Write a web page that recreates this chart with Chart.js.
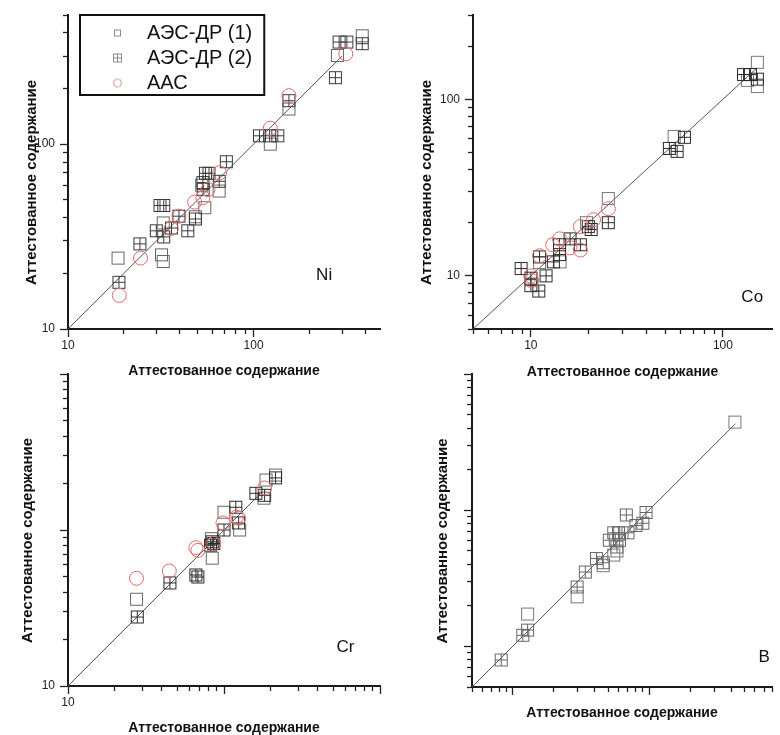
<!DOCTYPE html>
<html><head><meta charset="utf-8">
<script src="https://cdn.jsdelivr.net/npm/chart.js@4.4.1/dist/chart.umd.min.js"></script>
<style>
html,body{margin:0;padding:0;background:#fff;}
#wrap{position:relative;width:780px;height:735px;overflow:hidden;background:#fff;}
#wrap canvas{position:absolute;left:0;top:0;}
</style></head>
<body><div id="wrap">
<canvas id="cNi" width="780" height="735"></canvas>
<canvas id="cCo" width="780" height="735"></canvas>
<canvas id="cCr" width="780" height="735"></canvas>
<canvas id="cB" width="780" height="735"></canvas>
</div>
<script>
// ---------- DATA ----------
const seriesNames = ['АЭС-ДР (1)', 'АЭС-ДР (2)', 'ААС'];
const axisTitle = 'Аттестованное содержание';

// Ni
const niAes1X = [18.6, 31.9, 32.6, 32.6, 48.5, 52.5, 54.6, 65.2, 123, 155, 283, 385];
const niAes1Y = [24.2, 25.2, 23.2, 37.5, 40.5, 60, 45.3, 55.8, 100, 155, 302, 386];
const niAes2X = [18.8, 24.4, 31.3, 32.8, 29.9, 32.8, 36.1, 39.6, 44.2, 48.6, 53.3, 55, 57.5, 53.5, 65.3, 71.3, 107.6, 122, 135, 155, 289, 318, 385, 276];
const niAes2Y = [17.9, 28.9, 46.6, 46.6, 34, 31.5, 35.2, 40.8, 34, 39.4, 62, 69.6, 69.6, 57, 63, 80.4, 111, 111, 111, 172, 357, 357, 350, 229];
const niAasX = [18.9, 24.6, 36, 39.6, 48.1, 53.3, 56.8, 65.6, 123, 155, 314];
const niAasY = [15.2, 24.2, 35, 40.8, 48.6, 51.3, 56.8, 70, 122, 183, 308];
const niLine = [10, 300];

// Co
const coAes1X = [151, 151, 55.7, 25.3, 11.1, 14.2, 19.5, 134];
const coAes1Y = [162, 118, 61.6, 27.4, 11.9, 12, 20, 128];
const coAes2X = [128, 139, 151, 52.6, 57.7, 63, 25.3, 20.6, 19.9, 18.1, 16, 14.1, 14.1, 13.1, 12, 11, 10, 10, 8.9, 11.1];
const coAes2Y = [138, 138, 130, 52.7, 50.7, 60.9, 20, 18.3, 19, 15, 16.2, 15, 13.2, 12, 10, 8.2, 9.7, 8.8, 11, 12.8];
const coAasX = [10, 10.1, 11.1, 13, 14.1, 16, 18.1, 18.1, 21.2, 25.3];
const coAasY = [10, 9.4, 13, 15, 16.2, 14.4, 14, 19, 20.8, 24];
const coLine = [5, 150];

// Cr
const crAes1X = [27.5, 84, 100, 126, 186, 214, 180, 83];
const crAes1Y = [36, 66, 130, 100, 209, 225, 160, 88];
const crAes2X = [27.8, 45, 66, 68, 82, 86, 84, 100, 119, 124, 160, 182, 214];
const crAes2Y = [27.7, 45.8, 51.5, 50, 80, 82, 84, 100, 140, 111, 172, 167, 216];
const crAasX = [27.5, 44.6, 66, 68, 86, 98.5, 124, 120, 182];
const crAasY = [49, 54.6, 77, 74, 82, 111, 119, 121, 186];
const crLine = [10, 175];

// B
const bAes1X = [1.28, 2.96, 4.6, 5.5, 5.8, 42.7];
const bAes1Y = [1.72, 2.3, 3.9, 4.67, 5.0, 44.3];
const bAes2X = [0.82, 1.18, 1.28, 2.96, 3.4, 4.1, 4.6, 5.1, 5.5, 5.95, 6.06, 5.8, 6.8, 7.0, 8.0, 9.0, 9.5];
const bAes2Y = [0.79, 1.2, 1.31, 2.72, 3.5, 4.4, 4.1, 6.0, 6.8, 6.8, 6.0, 5.35, 9.2, 6.8, 7.7, 8.0, 9.6];
const bLine = [0.5, 43];

// ---------- HELPERS ----------
const FONT = "'Liberation Sans', Arial, Helvetica, sans-serif";
const RED = '#e06a6a';
function pts(xs, ys) { return xs.map((x, i) => ({x: x, y: ys[i]})); }
function isMajor(v) { const l = Math.log10(v); return Math.abs(l - Math.round(l)) < 1e-9; }
function isNice(v) {
  const e = Math.floor(Math.log10(v) + 1e-9);
  const s = v / Math.pow(10, e);
  return Math.abs(s - Math.round(s)) < 1e-6;
}
function marker(kind, size, color, cw, cx) {
  const h = size + 2;
  const c = document.createElement('canvas');
  c.width = cw; c.height = h;
  const g = c.getContext('2d');
  g.strokeStyle = color; g.lineWidth = 1;
  const cy = h / 2, r = (size - 1) / 2;
  if (kind === 'circ') {
    g.beginPath(); g.arc(cx, cy, r, 0, 2 * Math.PI); g.stroke();
  } else {
    g.strokeRect(cx - r, cy - r, 2 * r, 2 * r);
    if (kind === 'sqx') {
      g.beginPath();
      g.moveTo(cx, cy - r); g.lineTo(cx, cy + r);
      g.moveTo(cx - r, cy); g.lineTo(cx + r, cy);
      g.stroke();
    }
  }
  return c;
}

function axisCfg(isX, min, max, labels, size) {
  return {
    type: 'logarithmic', position: isX ? 'bottom' : 'left', min: min, max: max,
    grid: {
      display: true, drawOnChartArea: false, drawTicks: true, tickLength: 8, tickWidth: 1.3,
      tickColor: c => (c.tick && isNice(c.tick.value)) ? '#222' : 'rgba(0,0,0,0)',
      tickBorderDash: c => (c.tick && isMajor(c.tick.value)) ? [] : (isX ? [4, 20] : [4, 3]),
      tickBorderDashOffset: c => (c.tick && isMajor(c.tick.value)) || isX ? 0 : 4
    },
    border: {display: true, color: '#1a1a1a', width: 2},
    ticks: {
      autoSkip: false, maxRotation: 0, minRotation: 0, padding: isX ? 1 : 5,
      color: '#222', font: {family: FONT, size: 12},
      callback: v => labels.some(l => Math.abs(l - v) < 1e-9 * l) ? String(v) : ''
    },
    title: {
      display: true, text: isX ? axisTitle : axisTitle + '     ', color: '#111', padding: 0,
      font: {family: FONT, size: isX ? 14 : 15, weight: 'bold', lineHeight: 1}
    },
    afterFit: s => { if (isX) s.height = size; else s.width = size; }
  };
}

function makePanel(id, p) {
  const padLeft = p.yTitleX - 7.5;
  const padBottom = 735 - (p.xTitleY + 7);
  const yW = p.L - padLeft;
  const xH = (p.xTitleY + 7) - p.B;
  const img1 = marker('sq', 13, p.c1, 15, 7.5);
  const img2 = marker('sqx', 13, p.c2, 15, 7.5);
  const datasets = [];
  if (p.s3x) datasets.push({label: seriesNames[2], data: pts(p.s3x, p.s3y), pointStyle: 'circle', pointRadius: 7,
    borderColor: RED, borderWidth: 1, backgroundColor: 'rgba(0,0,0,0)'});
  datasets.push({label: seriesNames[1], data: pts(p.s2x, p.s2y), pointStyle: img2, pointRadius: 7,
    borderColor: p.c2, backgroundColor: 'rgba(0,0,0,0)'});
  datasets.push({label: seriesNames[0], data: pts(p.s1x, p.s1y), pointStyle: img1, pointRadius: 7,
    borderColor: p.c1, backgroundColor: 'rgba(0,0,0,0)'});
  datasets.push({type: 'line', label: '1:1', data: [{x: p.line[0], y: p.line[0]}, {x: p.line[1], y: p.line[1]}],
    borderColor: '#555', borderWidth: 1, pointRadius: 0, showLine: true, fill: false});

  let legendCfg = {display: false};
  if (p.legend) {
    const legImgs = [marker('sq', 7, '#888', 40, 32.5), marker('sqx', 9, '#888', 40, 32.5), marker('circ', 9, '#e08a8a', 40, 32.5)];
    legendCfg = {
      display: true, position: 'chartArea', align: 'start',
      title: {display: true, text: ' ', padding: {top: 8, bottom: 0}, font: {size: 10, lineHeight: 1}},
      labels: {
        usePointStyle: true, pointStyleWidth: 64, padding: 5, color: '#111',
        font: {family: FONT, size: 20},
        generateLabels: () => seriesNames.map((t, i) => ({text: t, pointStyle: legImgs[i],
          fillStyle: 'rgba(0,0,0,0)', strokeStyle: 'rgba(0,0,0,0)', lineWidth: 0, hidden: false, datasetIndex: i, fontColor: '#111'}))
      }
    };
  }

  const plugins = [{
    id: 'tag' + id,
    afterDatasetsDraw(chart) {
      const ctx = chart.ctx;
      ctx.save();
      ctx.font = '17px ' + FONT; ctx.fillStyle = '#111';
      ctx.textAlign = 'center'; ctx.textBaseline = 'middle';
      ctx.fillText(p.tag, chart.scales.x.getPixelForValue(p.tagAt[0]), chart.scales.y.getPixelForValue(p.tagAt[1]));
      ctx.restore();
    }
  }];
  if (p.legend) plugins.push({
    id: 'frame' + id,
    afterDraw(chart) {
      const lg = chart.legend; const hb = lg.legendHitBoxes || [];
      if (!hb.length) return;
      const ctx = chart.ctx;
      const x1 = chart.chartArea.left + 12, y1 = chart.chartArea.top;
      const x2 = Math.max.apply(null, hb.map(h => h.left + h.width)) + 12;
      const last = hb[hb.length - 1];
      const y2 = last.top + last.height + 2;
      ctx.save(); ctx.strokeStyle = '#111'; ctx.lineWidth = 2;
      ctx.strokeRect(x1, y1, x2 - x1, y2 - y1); ctx.restore();
    }
  });

  new Chart(document.getElementById(id), {
    type: 'scatter',
    data: {datasets: datasets},
    options: {
      responsive: false, animation: false, events: [],
      layout: {padding: {left: padLeft, top: p.T, right: 780 - p.R, bottom: padBottom}},
      plugins: {tooltip: {enabled: false}, legend: legendCfg},
      scales: {
        x: axisCfg(true, p.xmin, p.xmax, p.xLabels, xH),
        y: axisCfg(false, p.ymin, p.ymax, p.yLabels, yW)
      }
    },
    plugins: plugins
  });
}

makePanel('cNi', {L: 68, T: 15, R: 380, B: 329, yTitleX: 32, xTitleY: 371,
  xmin: 10, xmax: 480, ymin: 10, ymax: 500, xLabels: [10, 100], yLabels: [10, 100],
  s1x: niAes1X, s1y: niAes1Y, s2x: niAes2X, s2y: niAes2Y, s3x: niAasX, s3y: niAasY, line: niLine,
  c1: '#666', c2: '#3a3a3a', tag: 'Ni', tagAt: [240, 19.6], legend: true});
makePanel('cCo', {L: 473, T: 15, R: 780, B: 329, yTitleX: 427, xTitleY: 372,
  xmin: 5, xmax: 180, ymin: 5, ymax: 300, xLabels: [10, 100], yLabels: [10, 100],
  s1x: coAes1X, s1y: coAes1Y, s2x: coAes2X, s2y: coAes2Y, s3x: coAasX, s3y: coAasY, line: coLine,
  c1: '#777', c2: '#2a2a2a', tag: 'Co', tagAt: [142, 7.6], legend: false});
makePanel('cCr', {L: 68, T: 374, R: 380, B: 686, yTitleX: 28, xTitleY: 728,
  xmin: 10, xmax: 1000, ymin: 10, ymax: 1000, xLabels: [10], yLabels: [10],
  s1x: crAes1X, s1y: crAes1Y, s2x: crAes2X, s2y: crAes2Y, s3x: crAasX, s3y: crAasY, line: crLine,
  c1: '#666', c2: '#2a2a2a', tag: 'Cr', tagAt: [600, 17.8], legend: false});
makePanel('cB', {L: 472, T: 374, R: 780, B: 687, yTitleX: 443, xTitleY: 713,
  xmin: 0.5, xmax: 80, ymin: 0.5, ymax: 100, xLabels: [], yLabels: [],
  s1x: bAes1X, s1y: bAes1Y, s2x: bAes2X, s2y: bAes2Y, s3x: null, s3y: null, line: bLine,
  c1: '#777', c2: '#666', tag: 'B', tagAt: [70, 0.83], legend: false});
</script>
</body></html>
